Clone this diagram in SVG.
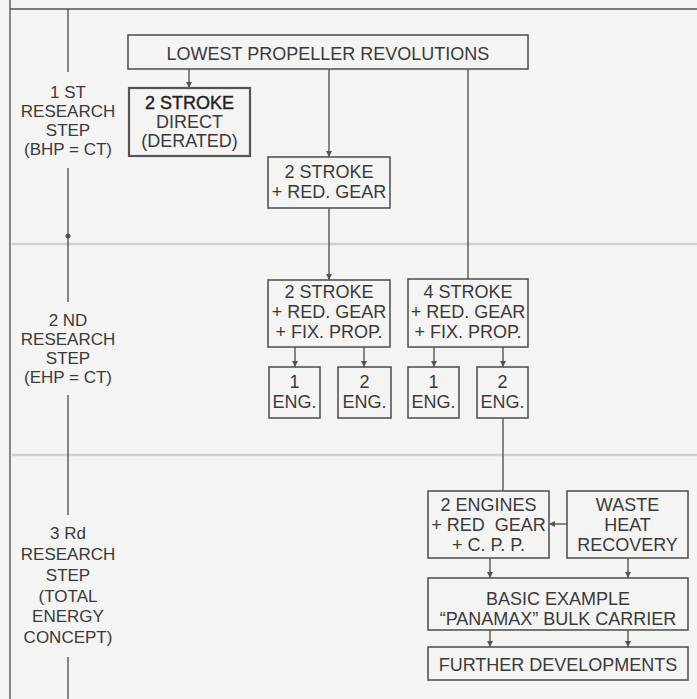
<svg xmlns="http://www.w3.org/2000/svg" width="697" height="699" viewBox="0 0 697 699">
<style>
.bx{fill:none;stroke:#555;stroke-width:1.6}
.ln{fill:none;stroke:#555;stroke-width:1.4}
.t{font-family:"Liberation Sans",Arial,sans-serif;font-size:18px;fill:#3a3a3a;text-anchor:middle}
.lb{font-family:"Liberation Sans",Arial,sans-serif;font-size:17px;fill:#3a3a3a;text-anchor:middle}
.sep{stroke:#cfcfcf;stroke-width:2.5;fill:none}
</style>
<defs>
<marker id="ah" viewBox="0 0 10 10" refX="10" refY="5" markerWidth="6" markerHeight="6" markerUnits="userSpaceOnUse" orient="auto">
<path d="M0,0 L10,5 L0,10 Z" fill="#555"/>
</marker>
</defs>
<rect x="0" y="0" width="697" height="699" fill="#f4f4f2"/>
<g id="frame">
<line class="ln" x1="10" y1="0" x2="10" y2="699"/>
<line class="ln" x1="10" y1="9" x2="697" y2="9"/>
<line class="sep" x1="12" y1="244" x2="697" y2="244"/>
<line class="sep" x1="12" y1="455" x2="697" y2="455"/>
</g>
<g id="timeline">
<line class="ln" x1="68" y1="9" x2="68" y2="72"/>
<line class="ln" x1="68" y1="168" x2="68" y2="302"/>
<circle cx="68" cy="236" r="2.5" fill="#555"/>
<line class="ln" x1="68" y1="395" x2="68" y2="515"/>
<line class="ln" x1="68" y1="657" x2="68" y2="699"/>
</g>
<g id="step1">
<text class="lb" x="68" y="98">1 ST</text>
<text class="lb" x="68" y="117">RESEARCH</text>
<text class="lb" x="68" y="136">STEP</text>
<text class="lb" x="68" y="155">(BHP = CT)</text>
</g>
<g id="step2">
<text class="lb" x="68" y="326">2 ND</text>
<text class="lb" x="68" y="345">RESEARCH</text>
<text class="lb" x="68" y="364">STEP</text>
<text class="lb" x="68" y="383">(EHP = CT)</text>
</g>
<g id="step3">
<text class="lb" x="68" y="539">3 Rd</text>
<text class="lb" x="68" y="560">RESEARCH</text>
<text class="lb" x="68" y="581">STEP</text>
<text class="lb" x="68" y="602">(TOTAL</text>
<text class="lb" x="68" y="622">ENERGY</text>
<text class="lb" x="68" y="643">CONCEPT)</text>
</g>
<g id="connectors">
<line class="ln" x1="189" y1="69" x2="189" y2="88" marker-end="url(#ah)"/>
<line class="ln" x1="329" y1="69" x2="329" y2="157" marker-end="url(#ah)"/>
<line class="ln" x1="468" y1="69" x2="468" y2="279"/>
<line class="ln" x1="329" y1="208" x2="329" y2="280" marker-end="url(#ah)"/>
<line class="ln" x1="295" y1="347" x2="295" y2="367" marker-end="url(#ah)"/>
<line class="ln" x1="364" y1="347" x2="364" y2="367" marker-end="url(#ah)"/>
<line class="ln" x1="434" y1="347" x2="434" y2="367" marker-end="url(#ah)"/>
<line class="ln" x1="503" y1="347" x2="503" y2="367" marker-end="url(#ah)"/>
<line class="ln" x1="503" y1="418" x2="503" y2="491"/>
<line class="ln" x1="567" y1="524" x2="549" y2="524" marker-end="url(#ah)"/>
<line class="ln" x1="490" y1="558" x2="490" y2="578" marker-end="url(#ah)"/>
<line class="ln" x1="628" y1="558" x2="628" y2="578" marker-end="url(#ah)"/>
<line class="ln" x1="490" y1="630" x2="490" y2="647" marker-end="url(#ah)"/>
<line class="ln" x1="628" y1="630" x2="628" y2="647" marker-end="url(#ah)"/>
</g>
<g id="lowest">
<rect class="bx" x="128" y="35" width="400" height="34"/>
<text class="t" x="328" y="60">LOWEST PROPELLER REVOLUTIONS</text>
</g>
<g id="direct">
<rect class="bx" x="129" y="88" width="121" height="68" style="stroke-width:2.2"/>
<text class="t" x="189.5" y="109" style="fill:#222;stroke:#222;stroke-width:0.4">2 STROKE</text>
<text class="t" x="189.5" y="128">DIRECT</text>
<text class="t" x="189.5" y="147">(DERATED)</text>
</g>
<g id="redgear">
<rect class="bx" x="268" y="157" width="122" height="51"/>
<text class="t" x="329" y="178">2 STROKE</text>
<text class="t" x="329" y="198">+ RED. GEAR</text>
</g>
<g id="s2fix">
<rect class="bx" x="268" y="280" width="122" height="67"/>
<text class="t" x="329" y="298">2 STROKE</text>
<text class="t" x="329" y="318">+ RED. GEAR</text>
<text class="t" x="329" y="338">+ FIX. PROP.</text>
</g>
<g id="s4fix">
<rect class="bx" x="408" y="279" width="120" height="68"/>
<text class="t" x="468" y="298">4 STROKE</text>
<text class="t" x="468" y="318">+ RED. GEAR</text>
<text class="t" x="468" y="338">+ FIX. PROP.</text>
</g>
<g id="eng1a">
<rect class="bx" x="269" y="367" width="51" height="51"/>
<text class="t" x="294.5" y="388">1</text>
<text class="t" x="294.5" y="408">ENG.</text>
</g>
<g id="eng2a">
<rect class="bx" x="338" y="367" width="53" height="51"/>
<text class="t" x="364.5" y="388">2</text>
<text class="t" x="364.5" y="408">ENG.</text>
</g>
<g id="eng1b">
<rect class="bx" x="408" y="367" width="51" height="51"/>
<text class="t" x="433.5" y="388">1</text>
<text class="t" x="433.5" y="408">ENG.</text>
</g>
<g id="eng2b">
<rect class="bx" x="477" y="367" width="51" height="51"/>
<text class="t" x="502.5" y="388">2</text>
<text class="t" x="502.5" y="408">ENG.</text>
</g>
<g id="engines">
<rect class="bx" x="428" y="491" width="121" height="67"/>
<text class="t" x="488.5" y="511">2 ENGINES</text>
<text class="t" x="488.5" y="531" xml:space="preserve">+ RED  GEAR</text>
<text class="t" x="488.5" y="551">+ C. P. P.</text>
</g>
<g id="waste">
<rect class="bx" x="567" y="491" width="121" height="67"/>
<text class="t" x="627.5" y="511">WASTE</text>
<text class="t" x="627.5" y="531">HEAT</text>
<text class="t" x="627.5" y="551">RECOVERY</text>
</g>
<g id="basic">
<rect class="bx" x="428" y="578" width="260" height="52"/>
<text class="t" x="558" y="605">BASIC EXAMPLE</text>
<text class="t" x="558" y="625">“PANAMAX” BULK CARRIER</text>
</g>
<g id="further">
<rect class="bx" x="428" y="647" width="260" height="33"/>
<text class="t" x="558" y="671">FURTHER DEVELOPMENTS</text>
</g>
</svg>
